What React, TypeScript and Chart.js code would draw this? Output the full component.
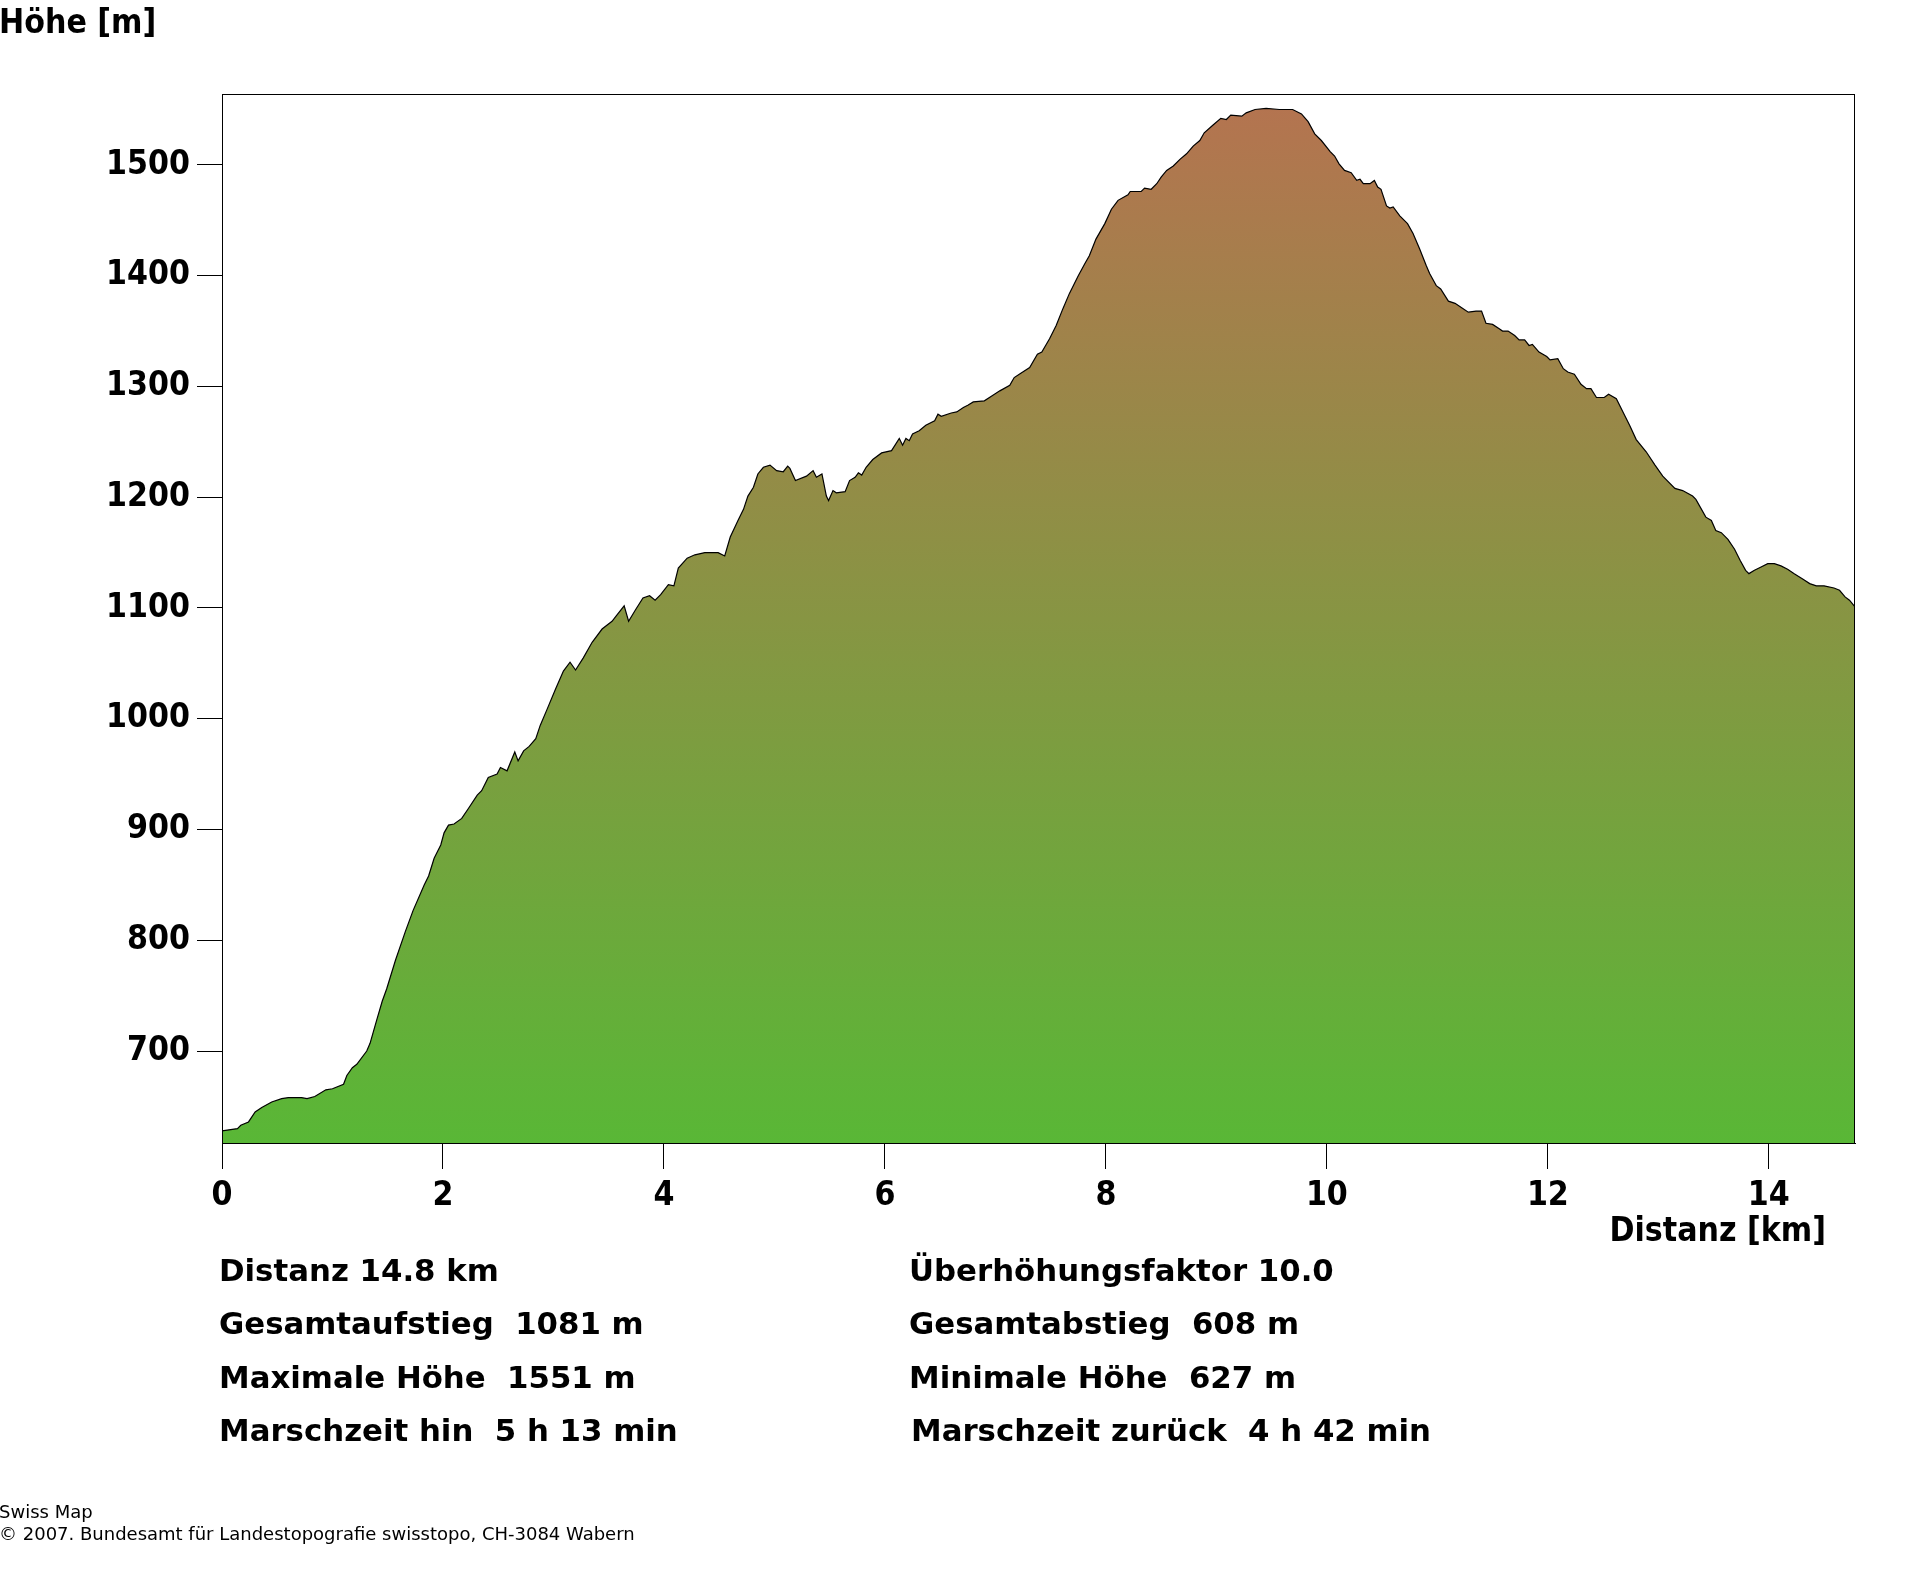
import React, { useEffect, useRef, useMemo } from 'react';
import { Chart, registerables } from 'chart.js';

Chart.register(...registerables);

// ---- data ----
const distanceKm = [
  0.00, 0.14, 0.17, 0.24, 0.30, 0.36, 0.45, 0.54, 0.60, 0.72, 0.77, 0.84, 0.94, 1.00, 1.10, 1.13, 1.18, 1.22,
  1.31, 1.34, 1.40, 1.45, 1.49, 1.57, 1.66, 1.73, 1.83, 1.87, 1.92, 1.98, 2.01, 2.05, 2.10, 2.17, 2.23, 2.31,
  2.35, 2.41, 2.49, 2.52, 2.58, 2.65, 2.68, 2.73, 2.78, 2.84, 2.88, 2.94, 3.02, 3.09, 3.15, 3.20, 3.27, 3.35,
  3.44, 3.53, 3.57, 3.64, 3.68, 3.74, 3.81, 3.87, 3.92, 3.97, 4.04, 4.09, 4.13, 4.21, 4.28, 4.37, 4.49, 4.55,
  4.60, 4.67, 4.72, 4.76, 4.81, 4.85, 4.90, 4.96, 5.02, 5.08, 5.12, 5.14, 5.19, 5.29, 5.35, 5.38, 5.43, 5.47,
  5.49, 5.53, 5.56, 5.64, 5.68, 5.73, 5.76, 5.79, 5.83, 5.89, 5.97, 6.06, 6.13, 6.16, 6.19, 6.22, 6.25, 6.31,
  6.37, 6.45, 6.48, 6.51, 6.60, 6.65, 6.71, 6.75, 6.80, 6.90, 6.96, 7.04, 7.13, 7.17, 7.23, 7.31, 7.38, 7.42,
  7.49, 7.55, 7.61, 7.67, 7.75, 7.81, 7.85, 7.91, 7.99, 8.05, 8.11, 8.20, 8.22, 8.32, 8.35, 8.41, 8.46, 8.50,
  8.55, 8.61, 8.67, 8.73, 8.79, 8.85, 8.89, 8.97, 9.04, 9.09, 9.13, 9.23, 9.27, 9.35, 9.45, 9.57, 9.69, 9.77,
  9.83, 9.89, 9.95, 10.03, 10.07, 10.11, 10.16, 10.22, 10.27, 10.30, 10.33, 10.39, 10.43, 10.46, 10.49, 10.54,
  10.57, 10.60, 10.66, 10.73, 10.78, 10.84, 10.90, 10.93, 10.99, 11.03, 11.10, 11.16, 11.22, 11.28, 11.35,
  11.40, 11.44, 11.50, 11.56, 11.59, 11.64, 11.70, 11.74, 11.79, 11.83, 11.86, 11.92, 11.99, 12.02, 12.09,
  12.14, 12.18, 12.24, 12.30, 12.35, 12.39, 12.44, 12.51, 12.55, 12.62, 12.68, 12.74, 12.80, 12.89, 12.97,
  13.04, 13.15, 13.22, 13.31, 13.34, 13.43, 13.48, 13.52, 13.57, 13.63, 13.69, 13.74, 13.79, 13.82, 13.87,
  13.93, 13.99, 14.05, 14.11, 14.17, 14.23, 14.31, 14.37, 14.43, 14.50, 14.59, 14.64, 14.69, 14.73, 14.78,
];

const elevationM = [
  628, 630, 633, 636, 645, 649, 654, 657, 658, 658, 657, 659, 665, 666, 670, 678, 685, 688,
  700, 707, 728, 745, 756, 782, 808, 827, 850, 858, 874, 886, 897, 904, 905, 910, 919, 931,
  935, 947, 950, 956, 953, 970, 962, 971, 975, 982, 994, 1008, 1027, 1043, 1051, 1044, 1055, 1069,
  1081, 1088, 1093, 1102, 1088, 1098, 1109, 1111, 1107, 1112, 1121, 1120, 1136, 1145, 1148, 1150, 1150, 1147,
  1164, 1179, 1189, 1201, 1209, 1221, 1227, 1229, 1224, 1223, 1228, 1226, 1215, 1219, 1224, 1218, 1221, 1201,
  1197, 1206, 1204, 1205, 1215, 1218, 1222, 1220, 1227, 1234, 1240, 1242, 1253, 1247, 1253, 1251, 1257, 1260,
  1265, 1269, 1275, 1273, 1276, 1277, 1281, 1283, 1286, 1287, 1291, 1296, 1301, 1308, 1312, 1317, 1329, 1331,
  1343, 1355, 1370, 1384, 1400, 1411, 1418, 1433, 1447, 1460, 1468, 1473, 1476, 1476, 1479, 1478, 1483, 1489,
  1495, 1499, 1505, 1510, 1517, 1522, 1529, 1536, 1542, 1541, 1545, 1544, 1547, 1550, 1551, 1550, 1550, 1546,
  1539, 1528, 1522, 1512, 1508, 1501, 1495, 1493, 1486, 1487, 1483, 1483, 1486, 1480, 1478, 1463,
  1461, 1462, 1454, 1447, 1438, 1424, 1409, 1402, 1391, 1388, 1377, 1375, 1371, 1367, 1368,
  1368, 1357, 1356, 1352, 1350, 1350, 1346, 1342, 1342, 1337, 1338, 1331, 1327, 1324, 1325,
  1316, 1313, 1311, 1302, 1298, 1298, 1290, 1290, 1293, 1289, 1277, 1265, 1252, 1241, 1229,
  1219, 1208, 1206, 1201, 1198, 1182, 1179, 1170, 1168, 1162, 1153, 1143, 1134, 1131, 1134,
  1137, 1140, 1140, 1138, 1135, 1131, 1126, 1122, 1120, 1120, 1118, 1116, 1110, 1107, 1101,
];

const xTickValues = [0, 2, 4, 6, 8, 10, 12, 14];
const yTickValues = [700, 800, 900, 1000, 1100, 1200, 1300, 1400, 1500];
const xMaxKm = 14.78;
const yMinM = 617;
const yMaxM = 1564;

const yAxisTitle = 'Höhe [m]';
const xAxisTitle = 'Distanz [km]';
const statsLeft = ['Distanz 14.8 km', 'Gesamtaufstieg  1081 m', 'Maximale Höhe  1551 m', 'Marschzeit hin  5 h 13 min'];
const statsRight = ['Überhöhungsfaktor 10.0', 'Gesamtabstieg  608 m', 'Minimale Höhe  627 m', 'Marschzeit zurück  4 h 42 min'];
const footerLines = ['Swiss Map', '© 2007. Bundesamt für Landestopografie swisstopo, CH-3084 Wabern'];

function fontAvailable(name: string): boolean {
  const ctx = document.createElement('canvas').getContext('2d');
  if (!ctx) return false;
  const sample = 'Höhe [m] 1500 Distanz';
  ctx.font = 'bold 100px serif';
  const a = ctx.measureText(sample).width;
  ctx.font = `bold 100px "${name}", serif`;
  const b = ctx.measureText(sample).width;
  return Math.abs(a - b) > 0.5;
}

export default function App() {
  const canvasRef = useRef<HTMLCanvasElement | null>(null);

  const headFont = useMemo(() => {
    const cond = fontAvailable('DejaVu Sans Condensed');
    return cond
      ? { family: '"DejaVu Sans Condensed", "DejaVu Sans", sans-serif', size: 33.5 }
      : { family: '"DejaVu Sans", sans-serif', size: 30 };
  }, []);

  useEffect(() => {
    const canvas = canvasRef.current;
    if (!canvas) return;
    const points = distanceKm.map((x, i) => ({ x, y: elevationM[i] }));

    const framePlugin = {
      id: 'frame',
      afterDatasetsDraw(chart: any) {
        const { ctx, chartArea } = chart;
        ctx.save();
        ctx.strokeStyle = '#000';
        ctx.lineWidth = 1;
        ctx.strokeRect(
          Math.round(chartArea.left) + 0.5,
          Math.round(chartArea.top) + 0.5,
          Math.round(chartArea.right - chartArea.left) - 1,
          Math.round(chartArea.bottom - chartArea.top)
        );
        ctx.restore();
      },
    };

    const chart = new Chart(canvas, {
      type: 'line',
      data: {
        datasets: [
          {
            data: points,
            borderColor: '#000000',
            borderWidth: 1.2,
            pointRadius: 0,
            tension: 0,
            fill: 'start',
            backgroundColor: (c: any) => {
              const area = c.chart.chartArea;
              if (!area) return '#5bb537';
              const g = c.chart.ctx.createLinearGradient(0, area.bottom, 0, area.top);
              g.addColorStop(0, '#59b736');
              g.addColorStop(1, '#b57350');
              return g;
            },
          },
        ],
      },
      options: {
        animation: false,
        responsive: false,
        devicePixelRatio: 1,
        layout: { padding: { left: 0, right: 65, top: 94, bottom: 0 } },
        plugins: {
          legend: { display: false },
          tooltip: { enabled: false },
          title: { display: false },
        },
        scales: {
          x: {
            type: 'linear',
            min: 0,
            max: xMaxKm,
            afterBuildTicks: (s: any) => {
              s.ticks = xTickValues.map((v) => ({ value: v }));
            },
            afterFit: (s: any) => {
              s.height = 429;
            },
            grid: { drawOnChartArea: false, drawTicks: true, tickLength: 26, tickColor: '#000', lineWidth: 1 },
            border: { display: true, color: '#000', width: 1 },
            ticks: {
              color: '#000',
              font: { family: headFont.family, size: headFont.size, weight: 'bold' },
              padding: 7,
              maxRotation: 0,
              autoSkip: false,
              callback: (v: any) => String(v),
            },
          },
          y: {
            type: 'linear',
            min: yMinM,
            max: yMaxM,
            afterBuildTicks: (s: any) => {
              s.ticks = yTickValues.map((v) => ({ value: v }));
            },
            afterFit: (s: any) => {
              s.width = 222;
            },
            grid: { drawOnChartArea: false, drawTicks: true, tickLength: 25, tickColor: '#000', lineWidth: 1 },
            border: { display: true, color: '#000', width: 1 },
            ticks: {
              color: '#000',
              font: { family: headFont.family, size: headFont.size, weight: 'bold' },
              padding: 7,
              autoSkip: false,
              callback: (v: any) => String(v),
            },
          },
        },
      },
      plugins: [framePlugin],
    } as any);

    return () => chart.destroy();
  }, [headFont]);

  const statSize = 30.8;
  const statStyle = (left: number, top: number): React.CSSProperties => ({
    position: 'absolute',
    left,
    top,
    fontFamily: '"DejaVu Sans", sans-serif',
    fontWeight: 'bold',
    fontSize: statSize,
    lineHeight: `${statSize}px`,
    whiteSpace: 'pre',
    color: '#000',
  });

  const headBase = (s: number) => 0.846 * s;
  const statTop0 = 1280.7 - 0.846 * statSize;

  return (
    <div style={{ position: 'absolute', left: 0, top: 0, width: 1920, height: 1572, background: '#fff', overflow: 'hidden' }}>
      <canvas ref={canvasRef} width={1920} height={1572} style={{ position: 'absolute', left: 0, top: 0, width: 1920, height: 1572 }} />
      <div
        style={{
          position: 'absolute',
          left: -1,
          top: 33 - headBase(headFont.size),
          fontFamily: headFont.family,
          fontWeight: 'bold',
          fontSize: headFont.size,
          lineHeight: `${headFont.size}px`,
          whiteSpace: 'pre',
          color: '#000',
        }}
      >
        {yAxisTitle}
      </div>
      <div
        style={{
          position: 'absolute',
          right: 1920 - 1826,
          top: 1241 - headBase(headFont.size),
          fontFamily: headFont.family,
          fontWeight: 'bold',
          fontSize: headFont.size,
          lineHeight: `${headFont.size}px`,
          whiteSpace: 'pre',
          color: '#000',
        }}
      >
        {xAxisTitle}
      </div>
      {statsLeft.map((t, i) => (
        <div key={'l' + i} style={statStyle(219, statTop0 + i * 53.5)}>
          {t}
        </div>
      ))}
      {statsRight.map((t, i) => (
        <div key={'r' + i} style={statStyle(i === 3 ? 911 : 909, statTop0 + i * 53.5)}>
          {t}
        </div>
      ))}
      {footerLines.map((t, i) => (
        <div
          key={'f' + i}
          style={{
            position: 'absolute',
            left: -1,
            top: 1518 - 0.846 * 18 + i * 22,
            fontFamily: '"DejaVu Sans", sans-serif',
            fontSize: 18,
            lineHeight: '18px',
            whiteSpace: 'pre',
            color: '#000',
          }}
        >
          {t}
        </div>
      ))}
    </div>
  );
}
